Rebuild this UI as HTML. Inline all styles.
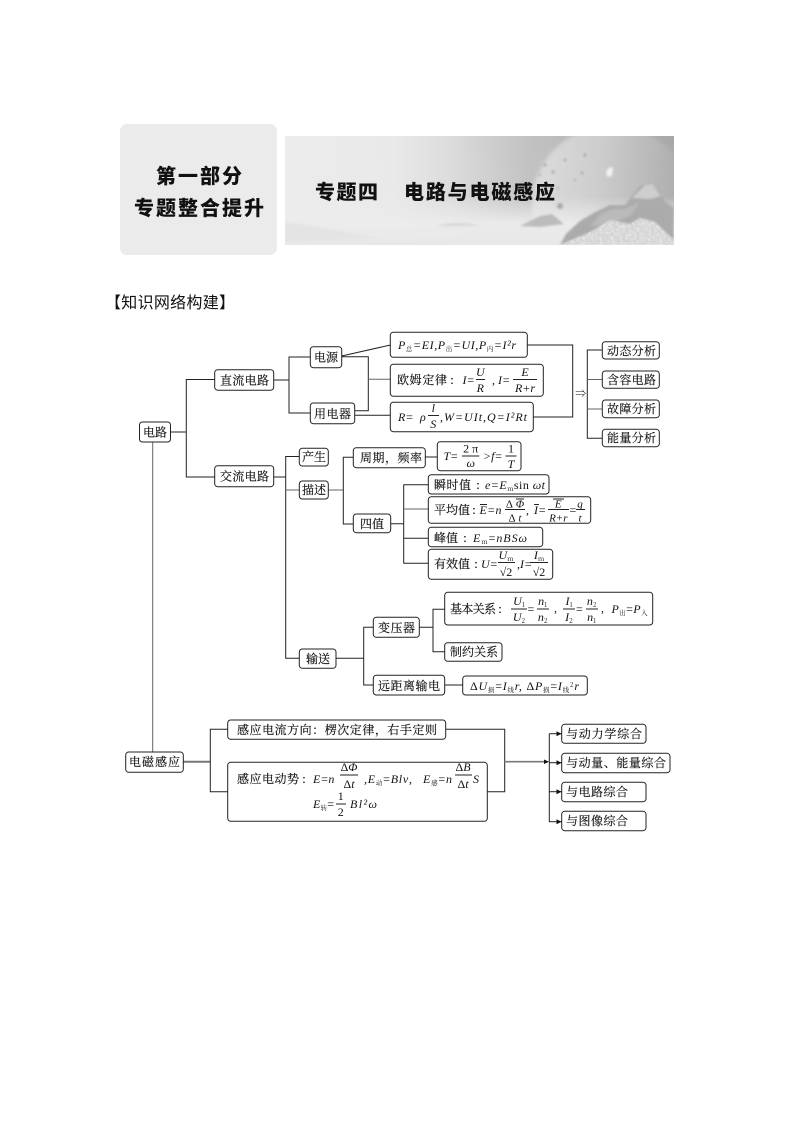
<!DOCTYPE html>
<html lang="zh"><head><meta charset="utf-8"><style>
html,body{margin:0;padding:0;background:#fff}
svg{display:block;filter:blur(.3px)}
text{fill:#111}
.c{font-family:"Noto Serif CJK SC",serif;font-size:12px;stroke:#111;stroke-width:.15}
.m{font-family:"Liberation Serif","Noto Serif CJK SC",serif;font-size:12px;font-style:italic}
.n{font-family:"Liberation Serif","Noto Serif CJK SC",serif;font-size:12px;font-style:normal}
.s{font-size:6.5px;font-style:normal;font-family:"Noto Serif CJK SC",serif}
.h{font-family:"Liberation Sans","Noto Sans CJK SC",sans-serif;font-weight:900;font-size:20px}
.mid{text-anchor:middle}
.l{fill:none;stroke:#222;stroke-width:1}
.g{fill:none;stroke:#666;stroke-width:1}
.b{fill:#fff;stroke:#222;stroke-width:1}
.f{font-size:11px}
</style></head><body>
<svg width="794" height="1123" viewBox="0 0 794 1123" xmlns="http://www.w3.org/2000/svg">
<defs>
<linearGradient id="bg" x1="0" x2="1" y1="0" y2="0"><stop offset="0" stop-color="#ececec"/><stop offset=".28" stop-color="#e9e9e9"/><stop offset=".42" stop-color="#dcdcdc"/><stop offset=".62" stop-color="#c2c2c2"/><stop offset="1" stop-color="#a8a8a8"/></linearGradient>
<linearGradient id="fade" x1="0" x2="0" y1="0" y2="1"><stop offset="0" stop-color="#ececec" stop-opacity="0"/><stop offset=".55" stop-color="#ececec" stop-opacity=".05"/><stop offset=".8" stop-color="#ececec" stop-opacity=".95"/><stop offset="1" stop-color="#e8e8e8" stop-opacity="1"/></linearGradient>
<linearGradient id="pl" x1="0" x2="1" y1="0" y2=".15"><stop offset="0" stop-color="#dedede"/><stop offset=".45" stop-color="#cccccc"/><stop offset="1" stop-color="#a8a8a8"/></linearGradient>
<filter id="bl"><feGaussianBlur stdDeviation="1"/></filter>
<filter id="bl2"><feGaussianBlur stdDeviation="2"/></filter>
<filter id="nz" x="0" y="0" width="100%" height="100%"><feTurbulence type="fractalNoise" baseFrequency=".35" numOctaves="3" seed="4"/><feColorMatrix values="0 0 0 0 1  0 0 0 0 1  0 0 0 0 1  1.6 0 0 0 -.55"/></filter>
<clipPath id="cp"><rect x="285" y="136" width="389" height="109"/></clipPath>
<clipPath id="rk"><path d="M560 245L590 232L610 220L630 224L640 218L655 222L674 240L674 245Z"/></clipPath>
<marker id="a" markerWidth="6" markerHeight="6" refX="5" refY="2.5" orient="auto"><path d="M0 0L5 2.5L0 5Z" fill="#111"/></marker>
</defs>

<!-- header -->
<rect x="120" y="124" width="157" height="131" rx="7" fill="#ebebeb"/>
<g clip-path="url(#cp)">
<rect x="285" y="136" width="389" height="109" fill="url(#bg)"/>
<circle cx="612" cy="205" r="80" fill="url(#pl)" filter="url(#bl2)"/>
<rect x="285" y="136" width="389" height="109" fill="url(#fade)"/>
<g filter="url(#bl)">
<path d="M285 222Q330 228 380 238L285 242Z" fill="#e4e4e4"/>
<path d="M435 226Q460 220 480 226Z" fill="#d6d6d6"/>
<path d="M520 226L540 216L552 214L564 224L540 227Z" fill="#bcbcbc"/>
<path d="M566 234L580 221L595 212L610 205L625 205L640 186L650 183L660 192L665 202L674 208L674 245L560 245Z" fill="#ababab"/>
<path d="M632 198L645 185L652 184L661 196L650 199Z" fill="#cecece"/>
<path d="M590 226L602 213L612 209L625 209L640 202L630 216L610 224Z" fill="#bababa"/>
<path d="M560 245L590 232L610 220L630 224L640 218L655 222L674 240L674 245Z" fill="#d4d4d4"/>
<path d="M606 171l4-4l3 1l-1 8l-5 1z" fill="#f0f0f0"/>
<circle cx="560" cy="206" r="3" fill="#aaa"/>
<circle cx="545" cy="165" r="1.3" fill="#999"/><circle cx="553" cy="172" r="1.3" fill="#999"/><circle cx="565" cy="160" r="1.2" fill="#999"/><circle cx="585" cy="155" r="1.3" fill="#999"/><circle cx="582" cy="173" r="1.2" fill="#999"/><circle cx="575" cy="180" r="1.2" fill="#aaa"/><circle cx="540" cy="175" r="1" fill="#999"/><circle cx="558" cy="188" r="1.2" fill="#aaa"/>
</g>
<rect x="555" y="215" width="119" height="30" filter="url(#nz)" clip-path="url(#rk)" opacity=".6"/>
</g>
<text class="h" x="156" y="183" textLength="86">第一部分</text>
<text class="h" x="134" y="215" textLength="130">专题整合提升</text>
<text class="h" x="315" y="199" textLength="63">专题四</text>
<text class="h" x="404" y="199" textLength="151">电路与电磁感应</text>
<text x="105" y="308" textLength="130" style="font-family:'WenQuanYi Zen Hei','Noto Sans CJK SC',sans-serif;font-size:16px">【知识网络构建】</text>

<!-- connectors -->
<path class="g" d="M152.7 442V752"/>
<path class="l" d="M170.7 432H186.3M214.7 379.5H186.3V477H214.7"/>
<path class="l" d="M273.7 380H289M310.3 357H289V413H310.3"/>
<path class="l" d="M341.7 356L390.5 345M341.7 356.7H368.3V410.7H354.7M354.7 415.3H390.5"/>
<path class="g" d="M368.3 379.3H390.5"/>
<path class="l" d="M527.3 345H572.7V417H533.3"/>
<path class="l" d="M602.3 350H587.3V438.3H602.3"/>
<path class="g" d="M587.3 379.5H602.3M587.3 409H602.3"/>
<path class="l" d="M273.7 477H285.7M299.3 456.5H285.7V658.3H299.3"/>
<path class="g" d="M285.7 490H299.3M328.3 490H343.3"/>
<path class="l" d="M353.3 457.3H343.3V524H353.3M425.3 457H437.3"/>
<path class="l" d="M390.7 523.7H403.7M428.3 484.7H403.7V563.3H428.3M403.7 538.3H428.3"/>
<path class="g" d="M403.7 509H428.3"/>
<path class="l" d="M336 658.3H363.7M373.3 627.3H363.7V685H373.3M419.3 627.3H433M444.7 609.3H433V651.7H444.7M444.7 685H462.7"/>
<path d="M183.3 761.7H210.3" fill="none" stroke="#777" stroke-width="2"/>
<path class="l" d="M227.7 729.3H210.3V791.7H227.7M445.7 729.3H504.7V791.7H487.3"/>
<path d="M504.7 761.7H545" fill="none" stroke="#777" stroke-width="1.6"/>
<path d="M544 759.5L549 761.7L544 764Z" fill="#111"/>
<path class="l" d="M549.3 733.7V822"/>
<path class="l" d="M549.3 733.7H561.5" marker-end="url(#a)"/>
<path class="l" d="M549.3 762.7H561.5" marker-end="url(#a)"/>
<path class="l" d="M549.3 791.7H561.5" marker-end="url(#a)"/>
<path class="l" d="M549.3 821.7H561.5" marker-end="url(#a)"/>

<!-- boxes -->
<g class="b">
<rect x="139.5" y="422" width="31" height="20" rx="3"/>
<rect x="214.7" y="369.7" width="59" height="20.5" rx="3"/>
<rect x="214.7" y="465.7" width="59" height="21" rx="3"/>
<rect x="310.3" y="346.7" width="31.4" height="21" rx="3"/>
<rect x="310.3" y="403" width="44.4" height="20.7" rx="3"/>
<rect x="390.3" y="332.3" width="137" height="25" rx="3"/>
<rect x="390.3" y="364.3" width="153" height="32" rx="3"/>
<rect x="390.3" y="402.3" width="143" height="29.4" rx="3"/>
<rect x="602.3" y="341.7" width="57" height="17.3" rx="3"/>
<rect x="602.3" y="371" width="57" height="17.3" rx="3"/>
<rect x="602.3" y="400" width="57" height="17.7" rx="3"/>
<rect x="602.3" y="429.3" width="57" height="17.4" rx="3"/>
<rect x="299.3" y="448.3" width="29" height="17.7" rx="3"/>
<rect x="299.3" y="481" width="29" height="18" rx="3"/>
<rect x="353.3" y="447.7" width="72" height="20" rx="3"/>
<rect x="437.3" y="441.7" width="83.7" height="29" rx="3"/>
<rect x="353.3" y="514" width="37.4" height="18.7" rx="3"/>
<rect x="428.3" y="474.7" width="120.7" height="19.3" rx="3"/>
<rect x="428.3" y="496.7" width="162.4" height="26.6" rx="3"/>
<rect x="428.3" y="527.3" width="114.4" height="19.4" rx="3"/>
<rect x="428.3" y="549.3" width="124.4" height="30" rx="3"/>
<rect x="299.3" y="649" width="36.7" height="19.3" rx="3"/>
<rect x="373.3" y="617.3" width="46" height="20" rx="3"/>
<rect x="373.3" y="675.3" width="71.4" height="19.7" rx="3"/>
<rect x="444.7" y="592.3" width="208" height="32.7" rx="3"/>
<rect x="444.7" y="642.7" width="57.3" height="18.6" rx="3"/>
<rect x="462.7" y="676" width="124.6" height="19" rx="3"/>
<rect x="125.7" y="752" width="57.6" height="20.3" rx="3"/>
<rect x="227.7" y="720" width="218" height="19.3" rx="3"/>
<rect x="227.7" y="762.3" width="259.6" height="59" rx="3"/>
<rect x="561.7" y="724.3" width="84.3" height="19" rx="3"/>
<rect x="561.7" y="753.3" width="108.3" height="19.4" rx="3"/>
<rect x="561.7" y="782.3" width="84.3" height="19.4" rx="3"/>
<rect x="561.7" y="811.3" width="84.3" height="19.4" rx="3"/>
</g>

<!-- plain labels -->
<g class="c">
<text x="143" y="436.5" textLength="24">电路</text>
<text x="220" y="384.5" textLength="49">直流电路</text>
<text x="220" y="480.5" textLength="49">交流电路</text>
<text x="314" y="361.5" textLength="24">电源</text>
<text x="314" y="418" textLength="37">用电器</text>
<text x="607" y="355" textLength="49">动态分析</text>
<text x="607" y="384" textLength="49">含容电路</text>
<text x="607" y="413" textLength="49">故障分析</text>
<text x="607" y="442" textLength="49">能量分析</text>
<text x="302" y="461" textLength="24">产生</text>
<text x="302" y="494" textLength="24">描述</text>
<text x="360" y="462" textLength="62">周期，频率</text>
<text x="360" y="528" textLength="24">四值</text>
<text x="306" y="663" textLength="24">输送</text>
<text x="378" y="632" textLength="37">变压器</text>
<text x="378" y="690" textLength="62">远距离输电</text>
<text x="450" y="656" textLength="48">制约关系</text>
<text x="129" y="766" textLength="51">电磁感应</text>
<text x="237" y="734" textLength="200">感应电流方向：楞次定律，右手定则</text>
<text x="566" y="738" textLength="76">与动力学综合</text>
<text x="566" y="767" textLength="100">与动量、能量综合</text>
<text x="566" y="796" textLength="62">与电路综合</text>
<text x="566" y="825" textLength="62">与图像综合</text>
<text x="397" y="384" textLength="50">欧姆定律</text><text x="450" y="384">:</text>
<text x="434" y="489" textLength="37">瞬时值</text><text x="476" y="489">:</text>
<text x="434" y="514" textLength="36">平均值</text><text x="472" y="514">:</text>
<text x="434" y="542" textLength="24">峰值</text><text x="463" y="542">:</text>
<text x="434" y="568" textLength="36">有效值</text><text x="474" y="568">:</text>
<text x="450" y="613" textLength="46">基本关系</text><text x="498" y="613">:</text>
<text x="237" y="783" textLength="62">感应电动势</text><text x="302" y="783">:</text>
</g>

<!-- P box -->
<text class="m" x="398" y="349" textLength="118">P<tspan class="s" dy="2">总</tspan><tspan dy="-2">=EI,P</tspan><tspan class="s" dy="2">出</tspan><tspan dy="-2">=UI,P</tspan><tspan class="s" dy="2">内</tspan><tspan dy="-2">=I²r</tspan></text>

<!-- Ohm -->
<g class="m">
<text x="462.5" y="384">I=</text>
<text class="mid" x="480.3" y="376">U</text><path class="l" d="M476 379.5H485"/><text class="mid" x="480.3" y="392">R</text>
<text x="492" y="384">, I=</text>
<text class="mid" x="525" y="376">E</text><path class="l" d="M513 379.5H537"/><text class="mid" x="525" y="392">R+r</text>
</g>
<!-- R box -->
<g class="m">
<text x="398" y="421">R=</text><text x="420" y="421">ρ</text>
<text class="mid" x="433.3" y="412">l</text><path class="l" d="M428 415.5H439"/><text class="mid" x="433.3" y="428">S</text>
<text x="440" y="421" textLength="87">,W=UIt,Q=I²Rt</text>
</g>
<!-- T box -->
<g class="m">
<text x="443.5" y="460">T=</text>
<text class="mid n" x="470.7" y="452.5">2 π</text><path class="l" d="M462 456H479.3"/><text class="mid" x="470.7" y="467">ω</text>
<text x="483" y="460">&gt;f=</text>
<text class="mid n" x="511" y="452.5">1</text><path class="l" d="M505.5 456H516.5"/><text class="mid" x="511" y="468">T</text>
</g>
<!-- instantaneous -->
<text class="m" x="485" y="489" textLength="60">e=E<tspan class="s" dy="2">m</tspan><tspan dy="-2" class="n">sin </tspan>ωt</text>
<!-- average -->
<g class="m">
<text x="479.5" y="514" textLength="22">E=n</text><path class="l" d="M480 504.5H487"/>
<text class="mid f" x="515" y="507.5"><tspan class="n f">Δ</tspan> Φ</text><path class="l" d="M505 509.5H525M516 499H524"/><text class="mid f" x="515" y="521.5"><tspan class="n f">Δ</tspan> t</text>
<text x="526" y="514">,</text>
<text x="534" y="514">I=</text><path class="l" d="M534 504.5H539"/>
<text class="mid f" x="558.3" y="507.5">E</text><path class="l" d="M548 509.5H569M553 499H564"/><text class="mid f" x="558.3" y="521.5">R+r</text>
<text x="569.5" y="514" class="n">=</text>
<text class="mid f" x="580" y="507.5">q</text><path class="l" d="M576 509.5H585"/><text class="mid f" x="580" y="521.5">t</text>
</g>
<!-- peak -->
<text class="m" x="473" y="542" textLength="54">E<tspan class="s" dy="2">m</tspan><tspan dy="-2" class="n">=</tspan>nBSω</text>
<!-- effective -->
<g class="m">
<text x="481" y="568">U=</text>
<text class="mid" x="506" y="559">U<tspan class="s" dy="2">m</tspan></text><path class="l" d="M498 562.5H515"/><text class="mid n" x="506" y="576">√2</text>
<text x="517" y="568">,I=</text>
<text class="mid" x="539" y="559">I<tspan class="s" dy="2">m</tspan></text><path class="l" d="M530 562.5H548"/><text class="mid n" x="539" y="576">√2</text>
</g>
<!-- transformer -->
<g class="m">
<text class="mid" x="519" y="605">U<tspan class="s" dy="2">1</tspan></text><path class="l" d="M511 609H527"/><text class="mid" x="519" y="621">U<tspan class="s" dy="2">2</tspan></text>
<text x="527.5" y="613" class="n">=</text>
<text class="mid" x="542.7" y="605">n<tspan class="s" dy="2">1</tspan></text><path class="l" d="M537 609H549"/><text class="mid" x="542.7" y="621">n<tspan class="s" dy="2">2</tspan></text>
<text x="554" y="612">,</text>
<text class="mid" x="569" y="605">I<tspan class="s" dy="2">1</tspan></text><path class="l" d="M563 609H575"/><text class="mid" x="569" y="621">I<tspan class="s" dy="2">2</tspan></text>
<text x="576" y="613" class="n">=</text>
<text class="mid" x="591.7" y="605">n<tspan class="s" dy="2">2</tspan></text><path class="l" d="M586 609H598"/><text class="mid" x="591.7" y="621">n<tspan class="s" dy="2">1</tspan></text>
<text x="601" y="612">,</text>
<text x="611.5" y="613" textLength="36">P<tspan class="s" dy="2">出</tspan><tspan dy="-2" class="n">=</tspan>P<tspan class="s" dy="2">入</tspan></text>
</g>
<text class="m" x="470" y="690" textLength="109"><tspan class="n">Δ</tspan>U<tspan class="s" dy="2">损</tspan><tspan dy="-2" class="n">=</tspan>I<tspan class="s" dy="2">线</tspan><tspan dy="-2">r, </tspan><tspan class="n">Δ</tspan>P<tspan class="s" dy="2">损</tspan><tspan dy="-2" class="n">=</tspan>I<tspan class="s" dy="2">线</tspan><tspan dy="-5" class="s">2</tspan><tspan dy="3">r</tspan></text>
<!-- EMF -->
<g class="m">
<text x="313" y="783">E=n</text>
<text class="mid" x="349" y="771"><tspan class="n">Δ</tspan>Φ</text><path class="l" d="M340 775H358"/><text class="mid" x="349" y="788"><tspan class="n">Δ</tspan>t</text>
<text x="364" y="783" textLength="48">,E<tspan class="s" dy="2">动</tspan><tspan dy="-2" class="n">=</tspan>Blv<tspan class="n">,</tspan></text>
<text x="423" y="783" textLength="29">E<tspan class="s" dy="2">感</tspan><tspan dy="-2" class="n">=</tspan>n</text>
<text class="mid" x="463" y="771"><tspan class="n">Δ</tspan>B</text><path class="l" d="M455 775H472"/><text class="mid" x="463" y="788"><tspan class="n">Δ</tspan>t</text>
<text x="473" y="783">S</text>
<text x="313" y="808" textLength="21">E<tspan class="s" dy="2">转</tspan><tspan dy="-2" class="n">=</tspan></text>
<text class="mid n" x="340.7" y="800">1</text><path class="l" d="M336 804H346"/><text class="mid n" x="340.7" y="816">2</text>
<text x="350" y="808" textLength="27">Bl²ω</text>
</g>
<text x="580.7" y="397" text-anchor="middle" class="n" style="font-size:11px">⇒</text>
</svg>
</body></html>
